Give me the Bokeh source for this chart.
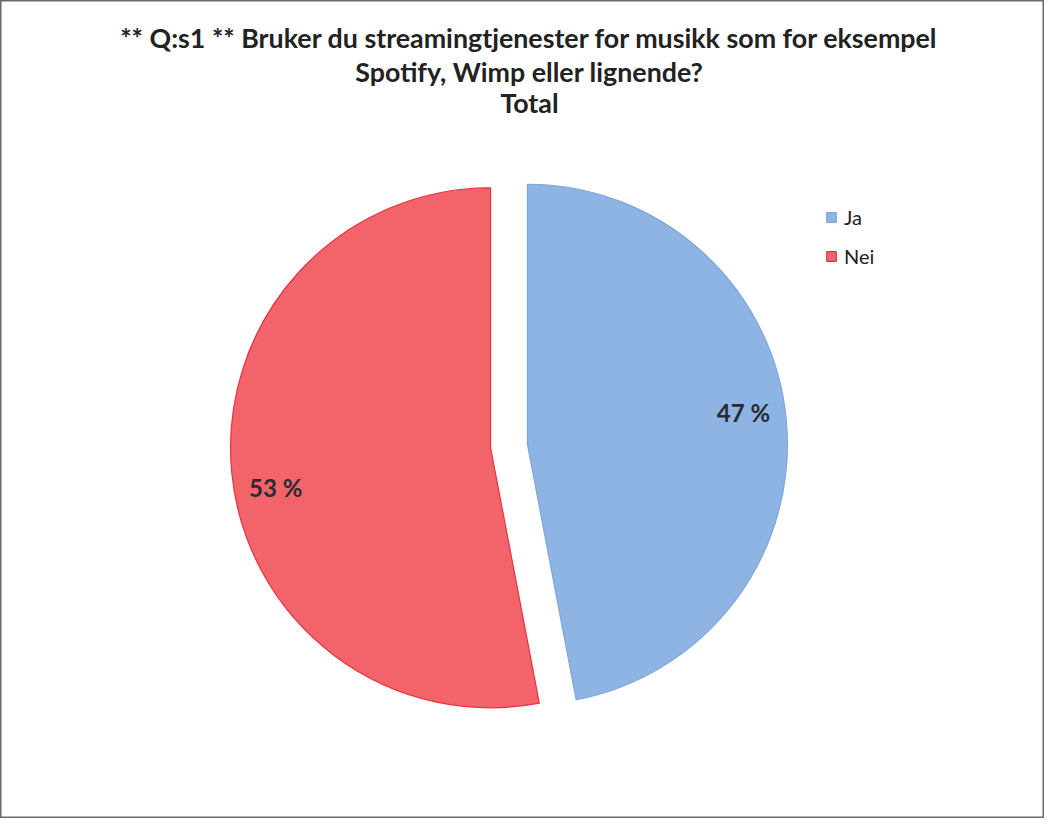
import math
from bokeh.plotting import figure
from bokeh.models import ColumnDataSource, Label, Legend, LegendItem, Range1d
from bokeh.core.properties import value
from bokeh.embed import file_html
from bokeh.resources import INLINE

# ---- data ----
categories = ["Ja", "Nei"]
shares = [47, 53]
label_texts = ["47 %", "53 %"]
colors = ["#8DB4E2", "#F2646A"]
edge_colors = ["#7FA6DA", "#E8303F"]
title_lines = ["** Q:s1 ** Bruker du streamingtjenester for musikk som for eksempel",
               "Spotify, Wimp eller lignende?",
               "Total"]

W, H = 1044, 818
p = figure(width=W, height=H, output_backend="svg", toolbar_location=None,
           x_range=Range1d(0, W), y_range=Range1d(0, H),
           min_border=0, min_border_left=0, min_border_right=0,
           min_border_top=0, min_border_bottom=0)
p.axis.visible = False
p.grid.visible = False
p.outline_line_color = "#6b6b6b"
p.outline_line_width = 2
p.background_fill_color = "white"

cx, cy, r = 508.5, 372.5, 260
explode = 18.5
total = sum(shares)

starts, ends, xs, ys, lx, ly = [], [], [], [], [], []
acc = 0.0
for s in shares:
    a0 = 90 - 360 * (acc + s) / total
    a1 = 90 - 360 * acc / total
    acc += s
    mid = math.radians((a0 + a1) / 2)
    x0 = cx + explode * math.cos(mid)
    y0 = cy + explode * math.sin(mid)
    starts.append(math.radians(a0))
    ends.append(math.radians(a1))
    xs.append(x0)
    ys.append(y0)
    lmid = mid + (math.radians(3) if math.cos(mid) > 0 else math.radians(5))
    lx.append(x0 + 0.84 * r * math.cos(lmid))
    ly.append(y0 + 0.84 * r * math.sin(lmid))

src = ColumnDataSource(dict(x=xs, y=ys, start=starts, end=ends, color=colors,
                           edge=edge_colors, cat=categories, lx=lx, ly=ly,
                           txt=label_texts))

items = []
for i, c in enumerate(categories):
    rr = p.wedge(x=[xs[i]], y=[ys[i]], radius=r, radius_units="data",
                 start_angle=[starts[i]], end_angle=[ends[i]],
                 fill_color=colors[i], line_color=edge_colors[i], line_width=1.2)
    items.append(LegendItem(label=c, renderers=[rr]))

p.text(x="lx", y="ly", text="txt", source=src, text_align="center",
       text_baseline="middle", text_font=value("Lato"), text_font_style="bold",
       text_font_size="24px", text_color="#2b2b33")

title_y = [H - 37, H - 71, H - 102]
for t, yy in zip(title_lines, title_y):
    p.add_layout(Label(x=529, y=yy, text=t, text_align="center",
                       text_baseline="middle", text_font="Lato",
                       text_font_style="bold", text_font_size="26.8px",
                       text_color="#222222"))

legend = Legend(items=items, location=(825, 550), orientation="vertical",
                label_text_font="Lato", label_text_font_size="20px",
                label_text_color="#222222", glyph_width=12, glyph_height=12,
                label_height=20, spacing=15, padding=0, margin=0,
                border_line_color=None, background_fill_alpha=0,
                label_standoff=7)
p.add_layout(legend)

open("out.html", "w").write(file_html(p, INLINE))
